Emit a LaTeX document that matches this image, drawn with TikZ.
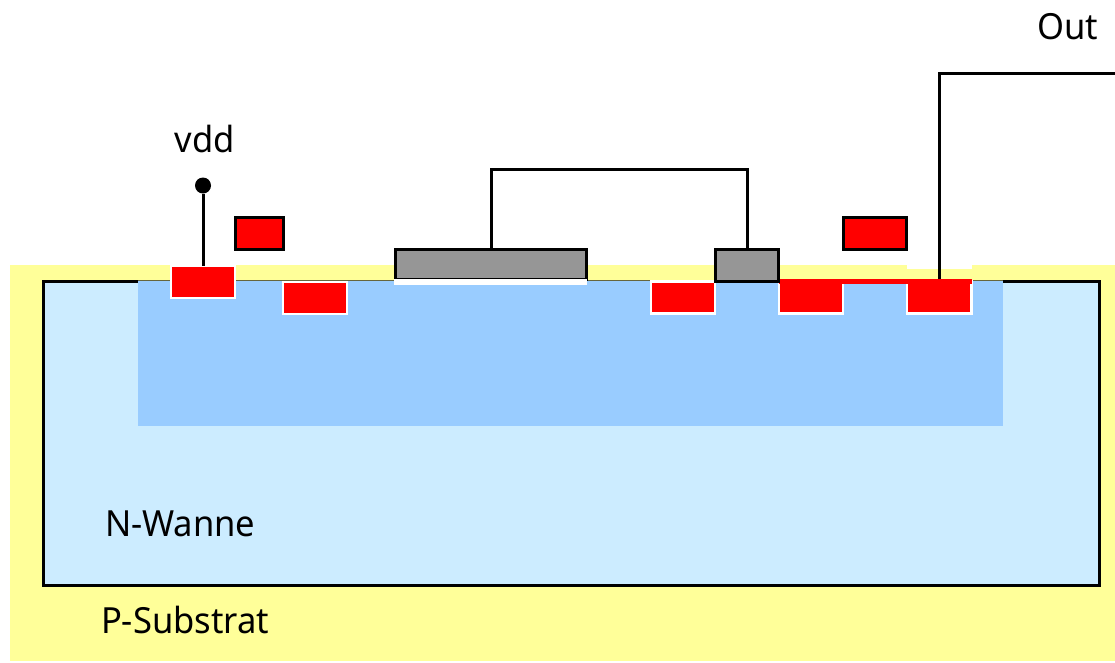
\documentclass[tikz,border=0pt]{standalone}
\usepackage{fontspec}
\setmainfont[FakeStretch=0.96]{Noto Sans}
\definecolor{subst}{HTML}{FFFF99}
\definecolor{wellL}{HTML}{CCECFF}
\definecolor{wellD}{HTML}{99CCFF}
\definecolor{gateG}{HTML}{969696}
\tikzset{
 px/.style={inner sep=0pt,outer sep=0pt,rectangle},
 redbox/.style={px,fill=red,draw=white,line width=2.4pt},
 metalbox/.style={px,fill=red,draw=black,line width=3pt},
 gatebox/.style={px,fill=gateG,draw=black,line width=3pt},
 wire/.style={draw=black,line width=3pt},
 lbl/.style={inner sep=0pt,outer sep=0pt,anchor=base west,text=black,font=\fontsize{36}{40}\selectfont},
}
\begin{document}
\begin{tikzpicture}[x=1pt,y=-1pt]
\useasboundingbox (0,0) rectangle (1115,662);
% substrate
\fill[subst] (10,265) rectangle (1115,661);
% N well
\fill[wellL] (43.3,281.5) rectangle (1099,585);
\draw[black,line width=3pt] (43.3,281.5) rectangle (1099,585);
% p-well region
\fill[wellD] (138,281) rectangle (1003,426);
\draw[black!60!subst,line width=0.8pt] (138,280.6) -- (1003,280.6);
% white notch above out contact
\fill[white] (907,265) rectangle (972,269);
% diffusion regions
\node[redbox,minimum width=64pt,minimum height=31.5pt] (d1) at (203,282) {};
\node[redbox,minimum width=64pt,minimum height=32pt] (d2) at (315,297.7) {};
\node[redbox,minimum width=64pt,minimum height=32pt] (d3) at (683,297.5) {};
\node[redbox,minimum width=64pt,minimum height=32pt] (d4) at (811,297.5) {};
\node[redbox,minimum width=64pt,minimum height=32pt] (d5) at (939.3,297.5) {};
% strap between contacts
\fill[red] (779,279) rectangle (972,283.8);
\fill[red] (780.3,281) rectangle (842,312);
\fill[red] (908.3,281) rectangle (970,312);
% gates
\node[gatebox,minimum width=191pt,minimum height=29.5pt] (g1) at (491,264.7) {};
\node[gatebox,minimum width=63.5pt,minimum height=31.5pt] (g2) at (747.2,265.7) {};
% gate oxide strip
\fill[white] (394,279) rectangle (587,285);
% small metal boxes
\node[metalbox,minimum width=48pt,minimum height=31.5pt] (m1) at (259,233.7) {};
\node[metalbox,minimum width=63.5pt,minimum height=32pt] (m2) at (874.8,233.7) {};
% vdd terminal
\node[circle,fill=black,inner sep=0pt,minimum size=16pt] (vt) at (203,185.5) {};
\draw[wire] (vt) -- (d1.north);
% gate connection
\coordinate (gt) at (491.7,169.5);
\draw[wire,line join=miter] (g1.north -| gt) -- (gt) -| (g2.north);
% output
\coordinate (ob) at (939.3,279);
\coordinate (ot) at (939.3,73.5);
\coordinate (oe) at (1115,73.5);
\draw[wire,line join=miter] (ob) -- (ot) -- (oe);
% labels
\node[lbl] (tout) at (1037.5,39.5) {Out};
\node[lbl] (tvdd) at (174.5,152) {vdd};
\node[lbl] (tn) at (105,536.5) {N-Wanne};
\node[lbl] (tp) at (101,633) {P-Substrat};
\end{tikzpicture}
\end{document}
